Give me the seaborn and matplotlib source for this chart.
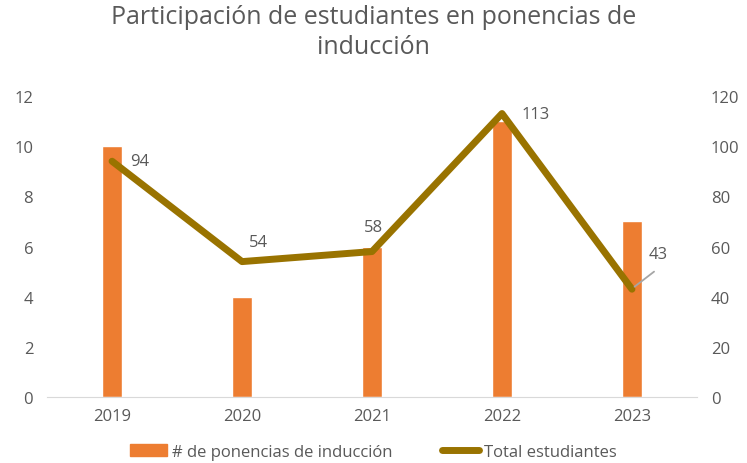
import matplotlib.pyplot as plt
import matplotlib.patches as mpatches
import matplotlib.lines as mlines
import seaborn as sns
import numpy as np
import pandas as pd

years = ['2019', '2020', '2021', '2022', '2023']
ponencias = [10, 4, 6, 11, 7]
estudiantes = [94, 54, 58, 113, 43]

bar_color = '#ED7D31'
line_color = '#997300'
txt = '#595959'

sns.set_style('white')
plt.rcParams['font.family'] = ['Open Sans', 'DejaVu Sans']

df = pd.DataFrame({'year': years, 'ponencias': ponencias, 'estudiantes': estudiantes})
df['pos'] = np.arange(len(years))

fig = plt.figure(figsize=(7.47, 4.64), dpi=100)
ax = fig.add_axes([0.063, 0.142, 0.87, 0.649])
sns.barplot(data=df, x='year', y='ponencias', color=bar_color, width=0.15,
            saturation=1, ax=ax)
ax.set_ylim(0, 12)
ax.set_xlim(-0.5, 4.5)
ax.set_yticks(range(0, 13, 2))
ax.set_xlabel('')
ax.set_ylabel('')

ax2 = ax.twinx()
sns.lineplot(data=df, x='pos', y='estudiantes', color=line_color, linewidth=5,
             ax=ax2, solid_capstyle='round')
ax2.set_ylim(0, 120)
ax2.set_yticks(range(0, 121, 20))
ax2.set_ylabel('')
ax2.set_xlim(-0.5, 4.5)

# label offsets in points (centre of text relative to the point)
offsets = [(20, 0), (12, 14), (1, 18), (24, 0), (19, 25)]
for i, v in enumerate(estudiantes):
    ax2.annotate(str(v), (i, v), xytext=offsets[i], textcoords='offset points',
                 ha='center', va='center', fontsize=12, color=txt)
# leader line for 43
ax2.annotate('', (4.02, 44), xytext=(4.17, 50),
             arrowprops=dict(arrowstyle='-', color='#A6A6A6', lw=1.3,
                             shrinkA=0, shrinkB=0))

for a in (ax, ax2):
    for s in a.spines.values():
        s.set_visible(False)
    a.tick_params(axis='both', length=0, labelsize=12, labelcolor=txt)
ax.spines['bottom'].set_visible(True)
ax.spines['bottom'].set_color('#D9D9D9')
ax.tick_params(axis='x', pad=8)
ax.tick_params(axis='y', pad=10)
ax2.tick_params(axis='y', pad=10)

fig.suptitle('Participación de estudiantes en ponencias de\ninducción',
             fontsize=18, color=txt, y=0.99, linespacing=1.3)

h1 = mpatches.Patch(color=bar_color, label='# de ponencias de inducción')
h2 = mlines.Line2D([], [], color=line_color, linewidth=5, label='Total estudiantes')
fig.legend(handles=[h1, h2], loc='lower center', ncol=2, frameon=False,
           fontsize=12, labelcolor=txt, bbox_to_anchor=(0.5, -0.025),
           handlelength=2.2, handletextpad=0.3, columnspacing=3)

fig.savefig('out.png', dpi=100)
